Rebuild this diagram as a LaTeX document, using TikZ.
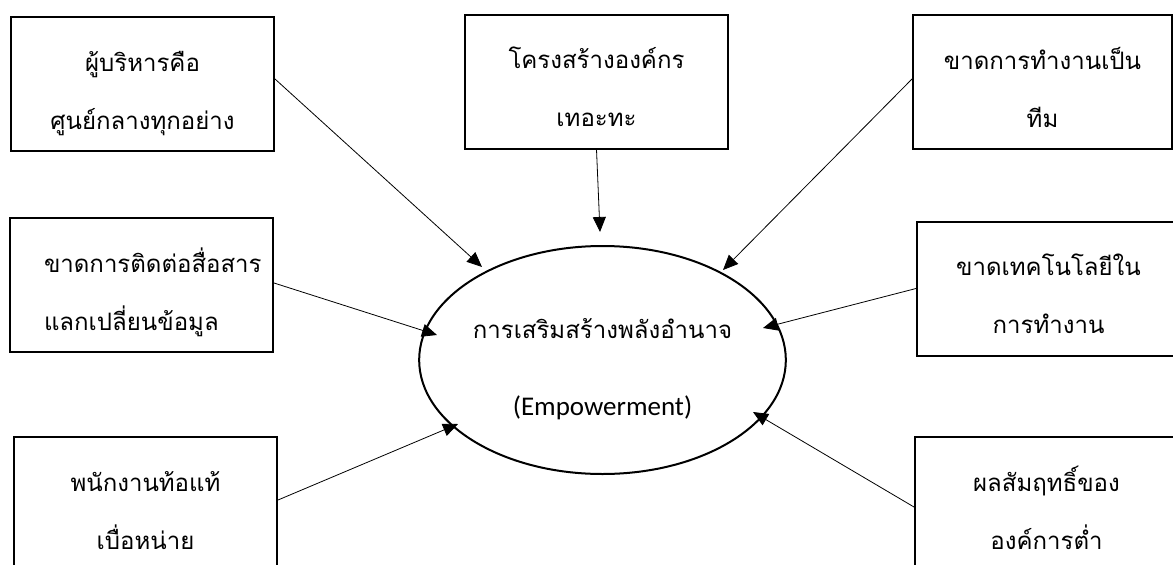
\documentclass[tikz,border=0pt]{standalone}
\usepackage{fontspec}
\setmainfont{Carlito}
\newfontfamily\thaifont[Script=Thai]{Loma}
\usetikzlibrary{shapes.geometric,arrows.meta}

\begin{document}
\begin{tikzpicture}[
    x=1pt,y=-1pt,
    box/.style={draw,line width=2pt,minimum width=263pt,minimum height=134pt,
        inner sep=0pt,align=center,text height=90pt,text depth=0pt,
        font=\thaifont\fontsize{24}{58}\selectfont},
    link/.style={line width=0.8pt,-{Triangle[length=15pt,width=13pt]}}
]
\useasboundingbox (0,0) rectangle (1173,565);

\node[draw,ellipse,line width=2pt,minimum width=311pt,minimum height=228pt,
    inner sep=0pt,align=center,text height=110pt,text depth=0pt,
    font=\fontsize{24}{77}\selectfont] (emp) at (602.5,360)
    {{\thaifont การเสริมสร้างพลังอำนาจ}\\
     {\fontsize{27}{77}\selectfont (Empowerment)}};

\node[box] (mgr) at (142.5,84) {ผู้บริหารคือ\\ศูนย์กลางทุกอย่าง};
\node[box] (struct) at (596.5,81.5) {โครงสร้างองค์กร\\เทอะทะ};
\node[box,minimum width=259pt] (team) at (1042.5,82) {ขาดการทำงานเป็น\\ทีม};
\node[box] (comm) at (141.5,285)
    {\makebox[195pt][l]{ขาดการติดต่อสื่อสาร}\\\makebox[195pt][l]{แลกเปลี่ยนข้อมูล}};
\node[box] (tech) at (1048.5,288.5) {ขาดเทคโนโลยีใน\\การทำงาน};
\node[box] (staff) at (145.5,504) {พนักงานท้อแท้\\เบื่อหน่าย};
\node[box] (result) at (1046.5,504) {ผลสัมฤทธิ์ของ\\องค์การต่ำ};

% arrow tips stop short of the ellipse
\coordinate (inMgr) at (482,267);
\coordinate (inStruct) at (600,232);
\coordinate (inTeam) at (723,270);
\coordinate (inComm) at (437,335);
\coordinate (inTech) at (763,328);
\coordinate (inStaff) at (458,424);
\coordinate (inResult) at (753,412);

\draw[link] ([yshift=5pt]mgr.east) -- (inMgr);
\draw[link] (struct.south) -- (inStruct);
\draw[link] ([yshift=3pt]team.west) -- (inTeam);
\draw[link] ([yshift=2pt]comm.east) -- (inComm);
\draw[link] (tech.west) -- (inTech);
\draw[link] ([yshift=4pt]staff.east) -- (inStaff);
\draw[link] ([yshift=-3pt]result.west) -- (inResult);
\end{tikzpicture}
\end{document}
